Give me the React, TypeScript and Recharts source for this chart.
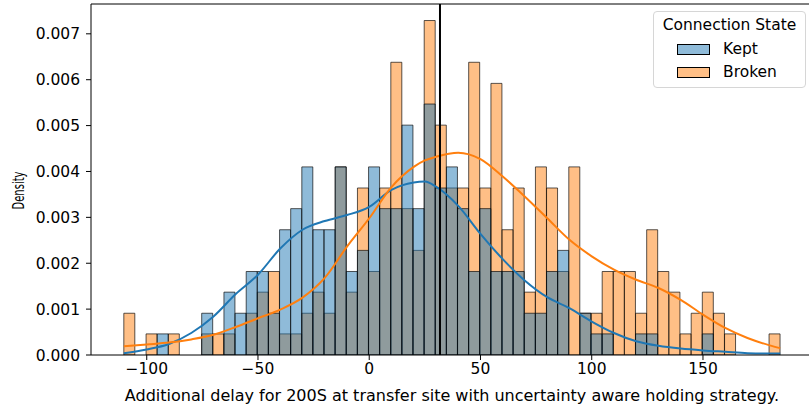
import React from 'react';
import { ComposedChart, Bar, Line, XAxis, YAxis, ReferenceLine, Legend, Label } from 'recharts';

// histogram bins (5 units wide), shared by both groups
const binCenters = [
  -107.8, -102.8, -97.8, -92.8, -87.8, -82.8, -77.8, -72.8, -67.8, -62.8,
  -57.8, -52.8, -47.8, -42.8, -37.8, -32.8, -27.8, -22.8, -17.8, -12.8,
  -7.8, -2.8, 2.2, 7.2, 12.2, 17.2, 22.2, 27.2, 32.2, 37.2,
  42.2, 47.2, 52.2, 57.2, 62.2, 67.2, 72.2, 77.2, 82.2, 87.2,
  92.2, 97.2, 102.2, 107.2, 112.2, 117.2, 122.2, 127.2, 132.2, 137.2,
  142.2, 147.2, 152.2, 157.2, 162.2, 167.2, 172.2, 177.2, 182.2,
];

const keptDensity = [
  0, 0, 0, 0.00046, 0, 0, 0, 0.00091, 0, 0.00137,
  0.00091, 0.00182, 0.00182, 0.00091, 0.00273, 0.00319, 0.0041, 0.00273, 0.00273, 0.0041,
  0.00182, 0.00228, 0.0041, 0.00319, 0.00319, 0.00501, 0.00319, 0.00547, 0.00364, 0.0041,
  0.00319, 0.00182, 0.00319, 0.00182, 0.00182, 0.00182, 0.00091, 0.00091, 0.00182, 0.00228,
  0, 0.00091, 0.00046, 0.00046, 0, 0, 0.00046, 0.00046, 0, 0,
  0, 0, 0.00046, 0, 0, 0, 0, 0, 0,
];

const brokenDensity = [
  0.00091, 0, 0.00046, 0, 0.00046, 0, 0, 0.00046, 0.00046, 0.00046,
  0, 0.00091, 0.00137, 0.00182, 0.00046, 0.00046, 0.00091, 0.00137, 0.00091, 0.0041,
  0.00137, 0.00364, 0.00182, 0.00364, 0.00638, 0.00319, 0.00228, 0.00729, 0.00501, 0.00364,
  0.00364, 0.00638, 0.00364, 0.00592, 0.00273, 0.00364, 0.00137, 0.0041, 0.00364, 0.00182,
  0.0041, 0.00091, 0.00091, 0.00182, 0.00182, 0.00182, 0.00091, 0.00273, 0.00182, 0.00137,
  0.00046, 0.00091, 0.00137, 0.00091, 0.00046, 0, 0, 0, 0.00046,
];

// kde curves, read at every 10 units
const kdeX = [
  -110.3, -100, -90, -80, -70, -60, -50, -40, -30, -20, -10, 0, 10, 20, 25, 30, 40, 50,
  60, 70, 80, 90, 100, 110, 120, 130, 140, 150, 160, 170, 180, 184.7,
];
const keptKde = [
  0.00004, 0.00012, 0.00024, 0.00048, 0.00084, 0.00133, 0.00175, 0.00232, 0.00273, 0.00292,
  0.00305, 0.00323, 0.0036, 0.00376, 0.00378, 0.00367, 0.00325, 0.00264,
  0.00209, 0.00162, 0.00126, 0.00102, 0.00073, 0.00048, 0.0003, 0.0002, 0.00014, 0.0001,
  0.00007, 0.00004, 0.00003, 0.00003,
];
const brokenKde = [
  0.00019, 0.00023, 0.00027, 0.00034, 0.00044, 0.00061, 0.0008, 0.00099, 0.00125, 0.00168,
  0.00236, 0.00298, 0.00366, 0.0041, 0.00424, 0.00432, 0.00441, 0.00427,
  0.00389, 0.00345, 0.00298, 0.00251, 0.00215, 0.00186, 0.00164, 0.00146, 0.0012, 0.00088,
  0.00059, 0.00037, 0.00021, 0.00015,
];

const meanDelay = 31.8;
const xTicks = [-100, -50, 0, 50, 100, 150];
const yTicks = [0, 0.001, 0.002, 0.003, 0.004, 0.005, 0.006, 0.007];
const xDomain = [-125.05, 199.45];
const yDomain = [0, 0.00765];

const BLUE = '#1f77b4';
const ORANGE = '#ff7f0e';
const FONT = 'DejaVu Sans';

const legendItems = [
  { name: 'Kept', color: BLUE },
  { name: 'Broken', color: ORANGE },
];

const binData = binCenters.map((x, i) => ({ x, kept: keptDensity[i], broken: brokenDensity[i] }));
const kdeData = kdeX.map((x, i) => ({ x, kept: keptKde[i], broken: brokenKde[i] }));

const tickStyle = { fill: '#000', fontSize: 15.5, fontFamily: FONT };

function LegendBox() {
  return (
    <div
      style={{
        position: 'relative',
        width: 153,
        height: 77,
        boxSizing: 'border-box',
        border: '1px solid #d6d6d6',
        borderRadius: 4,
        background: 'rgba(255,255,255,0.8)',
        fontFamily: FONT,
        fontSize: 15.5,
        color: '#000',
      }}
    >
      <div style={{ position: 'absolute', left: 0, right: 0, top: 4, lineHeight: '18px', textAlign: 'center' }}>
        Connection State
      </div>
      {legendItems.map((item, i) => (
        <div key={item.name} style={{ position: 'absolute', left: 23, top: 28 + i * 23, height: 18, display: 'flex', alignItems: 'center' }}>
          <span
            style={{
              display: 'inline-block',
              width: 33,
              height: 11,
              boxSizing: 'border-box',
              background: item.color + '80',
              border: '1px solid #000',
            }}
          />
          <span style={{ marginLeft: 13, lineHeight: '18px' }}>{item.name}</span>
        </div>
      ))}
    </div>
  );
}

export default function App() {
  return (
    <div style={{ position: 'absolute', left: 0, top: 0, width: 809, height: 407, overflow: 'hidden', background: '#fff' }}>
      <ComposedChart
        width={813}
        height={407}
        data={binData}
        margin={{ top: 4, right: 0, bottom: 0, left: 0 }}
        barCategoryGap={0}
        barGap={0}
      >
        <XAxis
          xAxisId="main"
          dataKey="x"
          type="number"
          domain={xDomain}
          allowDataOverflow
          ticks={xTicks}
          height={52}
          tickSize={5}
          tickMargin={3}
          tick={tickStyle}
          stroke="#000"
          tickFormatter={(v: number) => String(v).replace('-', '\u2212')}
        >
          <Label
            content={(props: any) => {
              const vb = props.viewBox;
              return (
                <text
                  x={vb.x + vb.width / 2}
                  y={vb.y + 40}
                  textAnchor="middle"
                  dominantBaseline="central"
                  fontFamily={FONT}
                  fontSize={16}
                  fill="#000"
                >
                  Additional delay for 200S at transfer site with uncertainty aware holding strategy.
                </text>
              );
            }}
          />
        </XAxis>
        {/* one hidden axis per group so that the two histograms overlap instead of sitting side by side */}
        <XAxis xAxisId="brokenBins" dataKey="x" type="number" domain={xDomain} allowDataOverflow hide height={0} />
        <XAxis xAxisId="keptBins" dataKey="x" type="number" domain={xDomain} allowDataOverflow hide height={0} />
        <YAxis
          type="number"
          domain={yDomain}
          allowDataOverflow
          ticks={yTicks}
          width={91}
          tickSize={5}
          tickMargin={6}
          tick={tickStyle}
          stroke="#000"
          tickFormatter={(v: number) => v.toFixed(3)}
        >
          <Label
            content={(props: any) => {
              const vb = props.viewBox;
              const cx = vb.x + 18.5;
              const cy = vb.y + vb.height / 2 + 11;
              return (
                <text
                  x={cx}
                  y={cy}
                  transform={`rotate(-90 ${cx} ${cy})`}
                  textAnchor="middle"
                  dominantBaseline="central"
                  fontFamily={FONT}
                  fontSize={15}
                  textLength={38}
                  lengthAdjust="spacingAndGlyphs"
                  fill="#000"
                >
                  Density
                </text>
              );
            }}
          />
        </YAxis>
        <Bar
          xAxisId="brokenBins"
          dataKey="broken"
          name="Broken"
          fill={ORANGE}
          fillOpacity={0.5}
          stroke="#000"
          strokeOpacity={0.65}
          strokeWidth={1}
          isAnimationActive={false}
        />
        <Bar
          xAxisId="keptBins"
          dataKey="kept"
          name="Kept"
          fill={BLUE}
          fillOpacity={0.5}
          stroke="#000"
          strokeOpacity={0.65}
          strokeWidth={1}
          isAnimationActive={false}
        />
        <Line
          xAxisId="main"
          data={kdeData}
          dataKey="kept"
          type="monotone"
          stroke={BLUE}
          strokeWidth={2}
          dot={false}
          activeDot={false}
          isAnimationActive={false}
        />
        <Line
          xAxisId="main"
          data={kdeData}
          dataKey="broken"
          type="monotone"
          stroke={ORANGE}
          strokeWidth={2}
          dot={false}
          activeDot={false}
          isAnimationActive={false}
        />
        <ReferenceLine xAxisId="main" x={meanDelay} stroke="#000" strokeWidth={2} />
        <ReferenceLine xAxisId="main" y={yDomain[1]} stroke="#000" strokeWidth={1} />
        <Legend
          layout="vertical"
          align="center"
          verticalAlign="middle"
          wrapperStyle={{ position: 'absolute', left: 653, top: 11, width: 153, height: 77 }}
          content={() => <LegendBox />}
        />
      </ComposedChart>
    </div>
  );
}
